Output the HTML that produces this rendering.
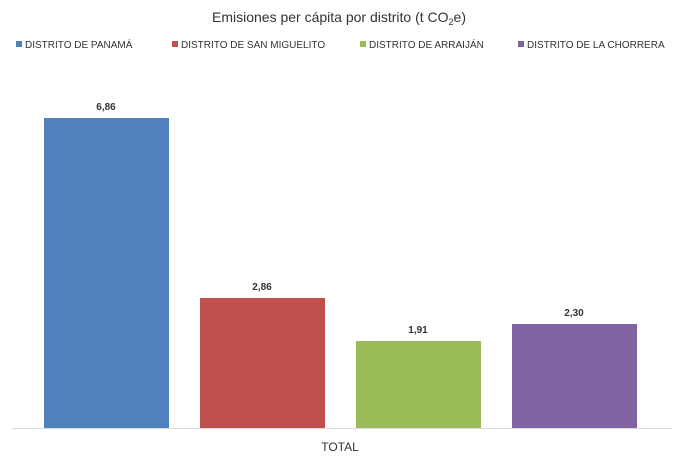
<!DOCTYPE html>
<html><head><meta charset="utf-8"><style>
body{margin:0;background:#fff;}
svg{display:block;font-family:"Liberation Sans",sans-serif;}
</style></head><body>
<svg width="678" height="462" xmlns="http://www.w3.org/2000/svg">
<rect width="678" height="462" fill="#fff"/>
<text x="339" y="22" text-anchor="middle" font-size="14" fill="#333">Emisiones per cápita por distrito (t CO<tspan font-size="9" dy="3">2</tspan><tspan dy="-3">e)</tspan></text>
<g font-size="10" fill="#333">
<rect x="16" y="41" width="6" height="6" fill="#4f81bd"/><text x="25" y="48">DISTRITO DE PANAMÁ</text>
<rect x="172" y="41" width="6" height="6" fill="#c0504d"/><text x="181" y="48">DISTRITO DE SAN MIGUELITO</text>
<rect x="360" y="41" width="6" height="6" fill="#9bbb59"/><text x="369" y="48">DISTRITO DE ARRAIJÁN</text>
<rect x="518" y="41" width="6" height="6" fill="#8064a2"/><text x="527" y="48">DISTRITO DE LA CHORRERA</text>
</g>
<line x1="12" y1="428.5" x2="672" y2="428.5" stroke="#d9d9d9"/>
<rect x="44" y="118" width="125" height="310" fill="#4f81bd"/>
<rect x="200" y="298" width="125" height="130" fill="#c0504d"/>
<rect x="356" y="341" width="125" height="87" fill="#9bbb59"/>
<rect x="512" y="324" width="125" height="104" fill="#8064a2"/>
<g font-size="10" fill="#333" text-anchor="middle" font-weight="bold">
<text x="106" y="110">6,86</text>
<text x="262" y="290">2,86</text>
<text x="418" y="333">1,91</text>
<text x="574" y="316">2,30</text>
</g>
<text x="340" y="451" text-anchor="middle" font-size="12" fill="#333">TOTAL</text>
</svg>
</body></html>
